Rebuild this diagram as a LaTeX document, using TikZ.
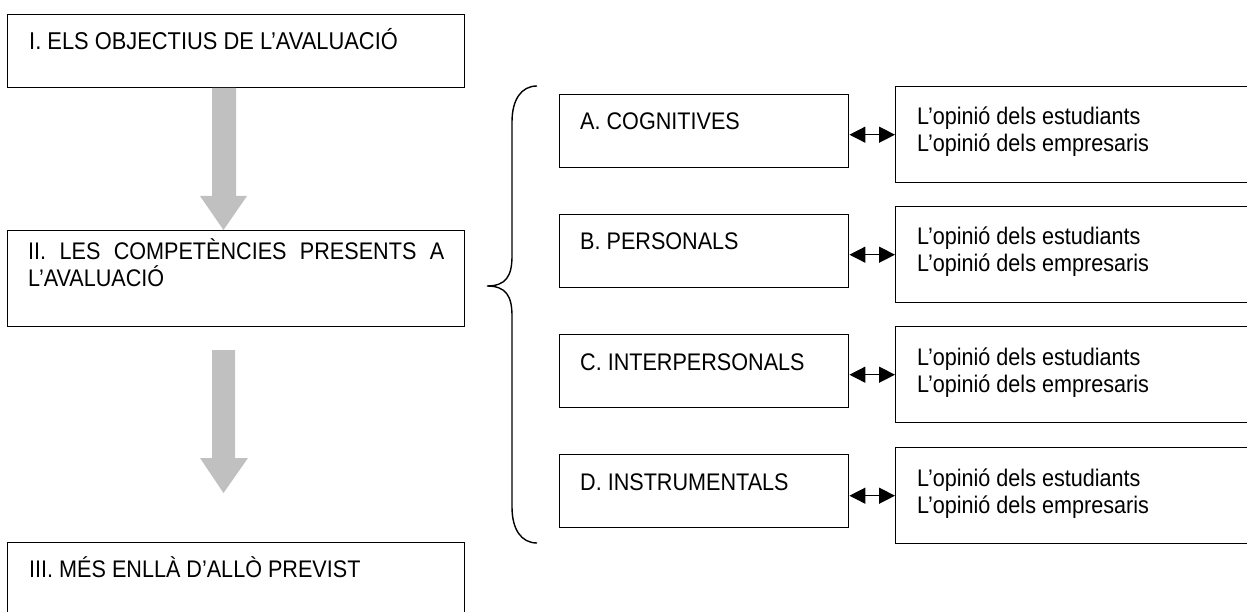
\documentclass[tikz,border=0pt]{standalone}
\usepackage{fontspec}
\setmainfont{Liberation Sans}[FakeStretch=0.9]
\usetikzlibrary{arrows.meta}
\definecolor{flowgray}{HTML}{C0C0C0}
\begin{document}
\begin{tikzpicture}[x=1pt,y=-1pt,
  box/.style={draw, line width=1.4pt, anchor=north west, inner sep=0pt},
  bigbox/.style={box, minimum width=457pt, minimum height=73pt},
  catbox/.style={box, minimum width=289pt, minimum height=73pt},
  opbox/.style={box, minimum width=420pt, minimum height=96pt},
  txt/.style={anchor=base west, inner sep=0pt, font=\fontsize{24}{27}\selectfont},
  link/.style={line width=1.4pt, {Triangle[length=16pt,width=16pt]}-{Triangle[length=16pt,width=16pt]}},
  flow/.style={fill=flowgray, draw=none}]
\useasboundingbox (0,0) rectangle (1247,612);
\clip (0,0) rectangle (1247,612);

% main sequence on the left
\node[bigbox] (bI) at (7,14) {};
\node[bigbox, minimum height=96pt] (bII) at (7,230) {};
\node[bigbox, minimum height=100pt] (bIII) at (7,542) {};
\node[txt, font=\fontsize{24.3}{27}\selectfont] (tI) at ([shift={(22,36)}]bI.north west) {I. ELS OBJECTIUS DE L’AVALUACIÓ};
\node[txt] (tII) at ([shift={(21,30)}]bII.north west)
  {\parbox[t]{416pt}{\fontsize{24}{27}\selectfont II.\hfill LES\hfill COMPETÈNCIES\hfill PRESENTS\hfill A\\L’AVALUACIÓ}};
\node[txt] (tIII) at ([shift={(22,35)}]bIII.north west) {III. MÉS ENLLÀ D’ALLÒ PREVIST};

% grey block arrows between the stages
\fill[flow] (212,88) -- (236,88) -- (236,196) -- (247,196) -- (223.5,230) -- (200,196) -- (212,196) -- cycle;
\fill[flow] (212,350) -- (235,350) -- (235,458) -- (248,458) -- (223.5,493) -- (200,458) -- (212,458) -- cycle;

% curly brace grouping the four kinds of competence
\coordinate (brTop) at (537,86);
\coordinate (brTip) at (487,286);
\coordinate (brBot) at (537,543);
\draw[line width=1.4pt] (brTop) .. controls (521,86) and (512,100) .. (512,122)
  -- (512,256) .. controls (512,276) and (506,286) .. (brTip)
  .. controls (506,286) and (512,296) .. (512,316)
  -- (512,507) .. controls (512,529) and (521,543) .. (brBot);

% competence categories and the opinions linked to each
\foreach \k/\lab/\yc/\yo in {A/A. COGNITIVES/94/86, B/B. PERSONALS/214/206,
                             C/C. INTERPERSONALS/334/326, D/D. INSTRUMENTALS/454/447} {
  \node[catbox] (s\k) at (559,\yc) {};
  \node[opbox] (r\k) at (895,\yo) {};
  \node[txt] (ts\k) at ([shift={(21,36)}]s\k.north west) {\lab};
  \node[txt] (tr\k) at ([shift={(22,39)}]r\k.north west)
    {\parbox[t]{300pt}{\fontsize{24}{27}\selectfont L’opinió dels estudiants\\L’opinió dels empresaris}};
  \draw[link] (s\k.east |- r\k.west) -- (r\k.west);
}
\end{tikzpicture}
\end{document}
